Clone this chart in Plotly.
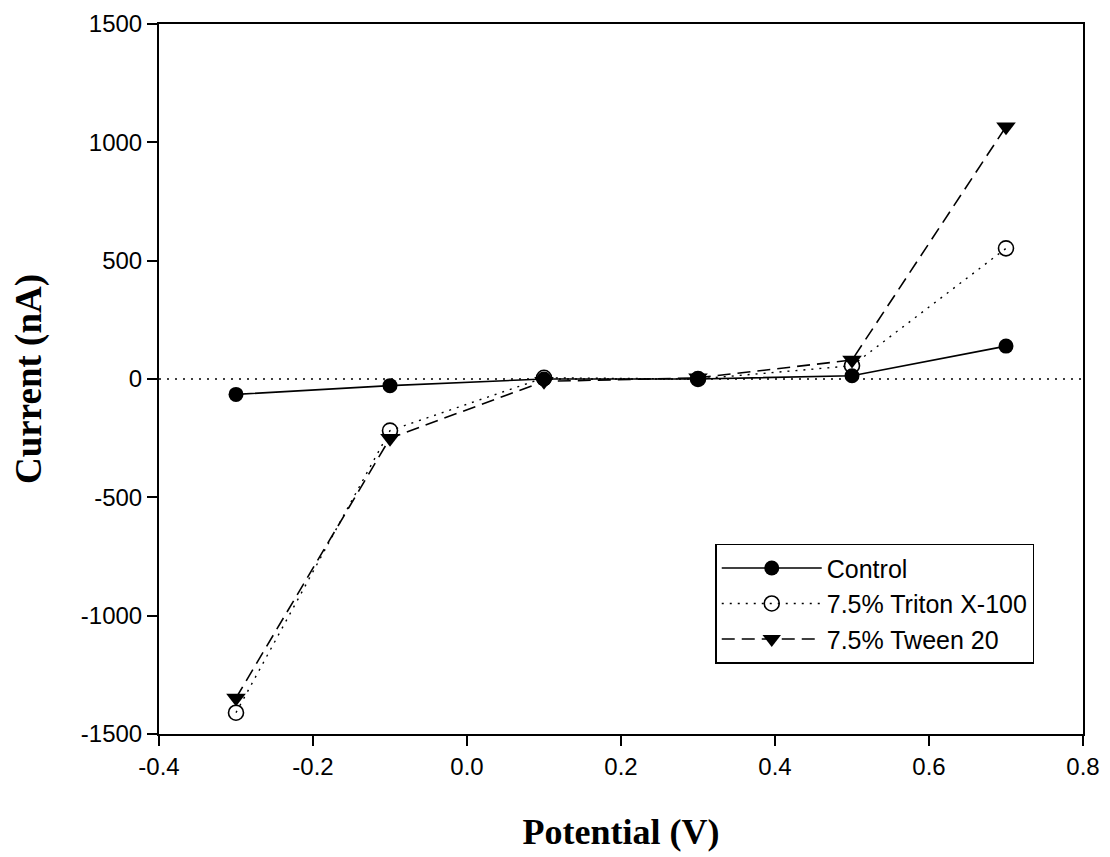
import plotly.graph_objects as go

potential = [-0.3, -0.1, 0.1, 0.3, 0.5, 0.7]
control = [-65, -28, 0, 0, 14, 139]
triton = [-1410, -218, 5, 0, 56, 552]
tween = [-1348, -250, -10, 5, 80, 1066]

x_ticks = [-0.4, -0.2, 0.0, 0.2, 0.4, 0.6, 0.8]
x_tick_labels = ["-0.4", "-0.2", "0.0", "0.2", "0.4", "0.6", "0.8"]
y_ticks = [-1500, -1000, -500, 0, 500, 1000, 1500]
y_tick_labels = ["-1500", "-1000", "-500", "0", "500", "1000", "1500"]

fig = go.Figure()

fig.add_trace(go.Scatter(
    x=[x_ticks[0], x_ticks[-1]], y=[0, 0], mode="lines",
    line=dict(color="black", width=1.4, dash="2px,6px"),
    showlegend=False, hoverinfo="skip"))

fig.add_trace(go.Scatter(
    x=potential, y=control, name="Control", mode="lines+markers",
    line=dict(color="black", width=1.6),
    marker=dict(symbol="circle", size=15, color="black")))

fig.add_trace(go.Scatter(
    x=potential, y=triton, name="7.5% Triton X-100", mode="lines+markers",
    line=dict(color="black", width=1.4, dash="2px,6px"),
    marker=dict(symbol="circle-open", size=15, color="black", line=dict(width=1.6))))

fig.add_trace(go.Scatter(
    x=potential, y=tween, name="7.5% Tween 20", mode="lines+markers",
    line=dict(color="black", width=1.6, dash="13px,7px"),
    marker=dict(symbol="triangle-down", size=17, color="black")))

fig.update_layout(
    width=1102, height=849,
    margin=dict(l=151, r=27, t=16, b=123, autoexpand=False),
    paper_bgcolor="white", plot_bgcolor="white",
    font=dict(family="Liberation Sans, Arial", size=24, color="black"),
    legend=dict(
        x=0.602, y=0.268, xanchor="left", yanchor="top",
        bordercolor="black", borderwidth=1.5, bgcolor="white",
        font=dict(family="Liberation Sans, Arial", size=25),
        itemwidth=100, entrywidth=228, tracegroupgap=0),
)

fig.update_xaxes(
    range=[x_ticks[0], x_ticks[-1]], tickvals=x_ticks, ticktext=x_tick_labels,
    showgrid=False, zeroline=False, automargin=False,
    showline=True, linecolor="black", linewidth=2, mirror=True,
    ticks="outside", ticklen=10, tickwidth=2, tickcolor="black",
    title=dict(text="<b>Potential (V)</b>",
               font=dict(family="Liberation Serif, Times New Roman", size=36),
               standoff=40),
)
fig.update_yaxes(
    range=[y_ticks[0], y_ticks[-1]], tickvals=y_ticks, ticktext=y_tick_labels,
    showgrid=False, zeroline=False, automargin=False,
    showline=True, linecolor="black", linewidth=2, mirror=True,
    ticks="outside", ticklen=10, tickwidth=2, tickcolor="black",
    title=dict(text="<b>Current (nA)</b>",
               font=dict(family="Liberation Serif, Times New Roman", size=37),
               standoff=36),
)

fig.write_html("out.html")
